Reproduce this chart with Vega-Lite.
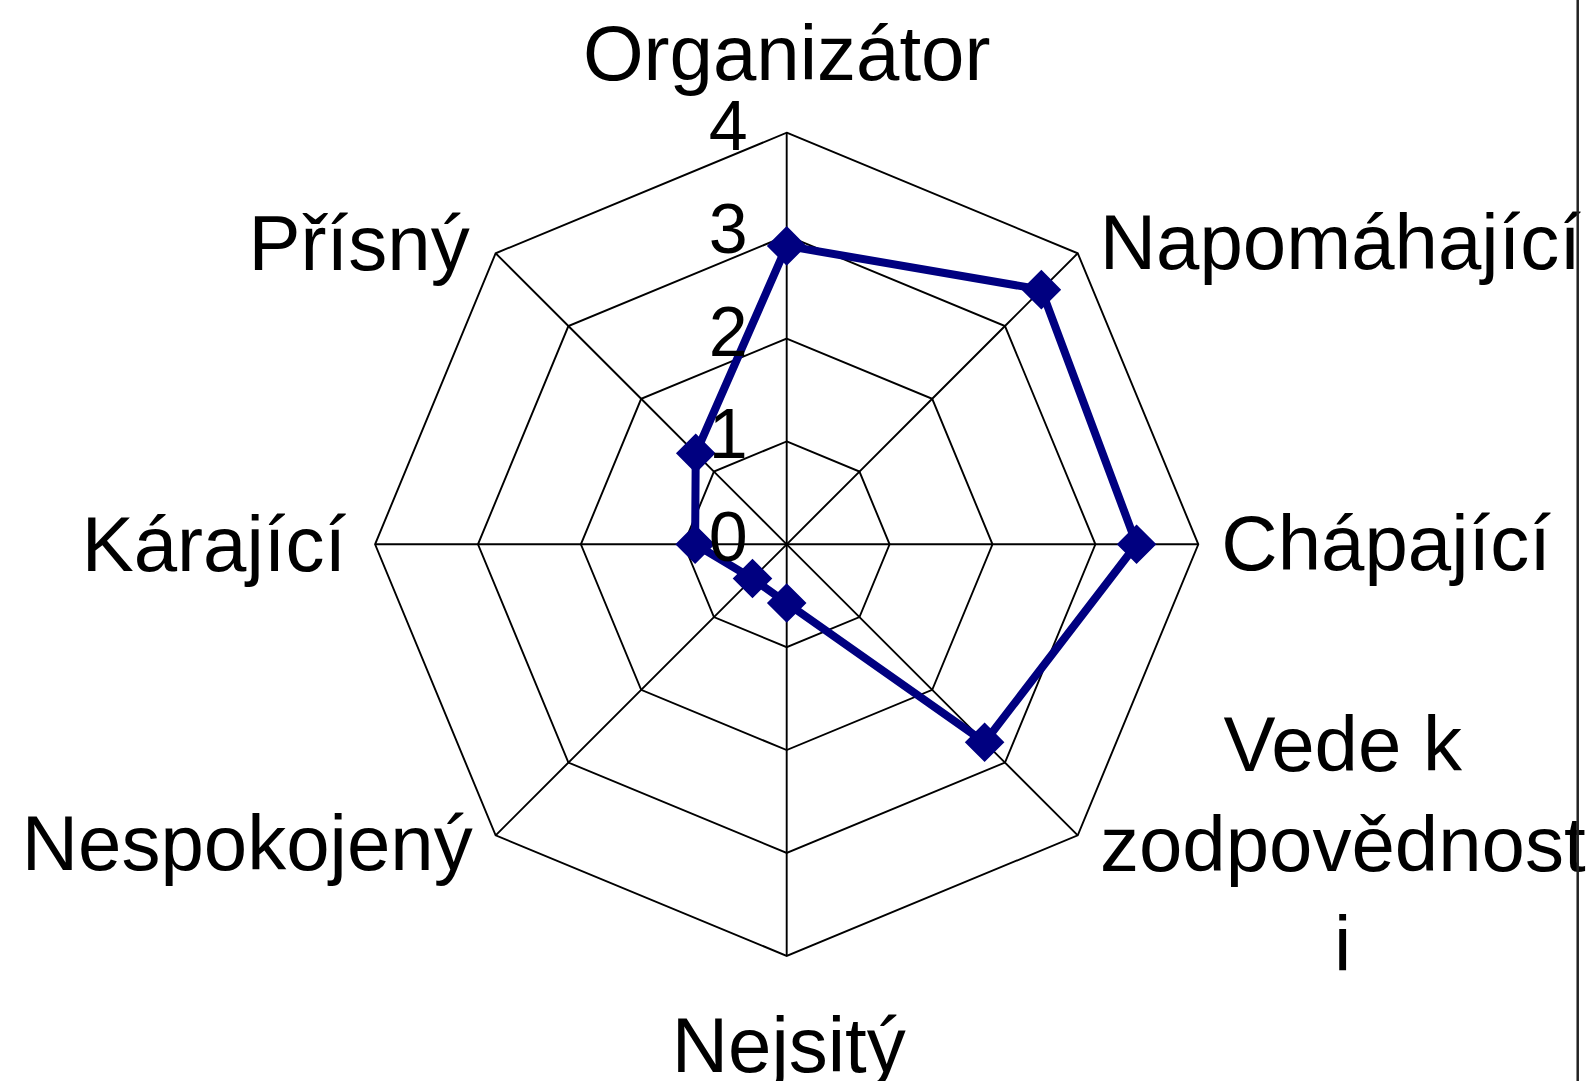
{
  "$schema": "https://vega.github.io/schema/vega-lite/v6.json",
  "width": 1595,
  "height": 1081,
  "padding": 0,
  "autosize": {"type": "none"},
  "background": "white",
  "config": {"view": {"stroke": null}, "font": "Liberation Sans"},
  "datasets": {
    "hodnoty": [
      {"kategorie": "Organizátor", "hodnota": 2.9},
      {"kategorie": "Napomáhající", "hodnota": 3.5},
      {"kategorie": "Chápající", "hodnota": 3.4},
      {"kategorie": "Vede k zodpovědnosti", "hodnota": 2.72},
      {"kategorie": "Nejsitý", "hodnota": 0.57},
      {"kategorie": "Nespokojený", "hodnota": 0.47},
      {"kategorie": "Kárající", "hodnota": 0.89},
      {"kategorie": "Přísný", "hodnota": 1.25}
    ],
    "mrizka": [
      {"kruh": 0, "osa": 0}, {"kruh": 0, "osa": 1}, {"kruh": 0, "osa": 2}, {"kruh": 0, "osa": 3},
      {"kruh": 0, "osa": 4}, {"kruh": 0, "osa": 5}, {"kruh": 0, "osa": 6}, {"kruh": 0, "osa": 7},
      {"kruh": 1, "osa": 0}, {"kruh": 1, "osa": 1}, {"kruh": 1, "osa": 2}, {"kruh": 1, "osa": 3},
      {"kruh": 1, "osa": 4}, {"kruh": 1, "osa": 5}, {"kruh": 1, "osa": 6}, {"kruh": 1, "osa": 7},
      {"kruh": 2, "osa": 0}, {"kruh": 2, "osa": 1}, {"kruh": 2, "osa": 2}, {"kruh": 2, "osa": 3},
      {"kruh": 2, "osa": 4}, {"kruh": 2, "osa": 5}, {"kruh": 2, "osa": 6}, {"kruh": 2, "osa": 7},
      {"kruh": 3, "osa": 0}, {"kruh": 3, "osa": 1}, {"kruh": 3, "osa": 2}, {"kruh": 3, "osa": 3},
      {"kruh": 3, "osa": 4}, {"kruh": 3, "osa": 5}, {"kruh": 3, "osa": 6}, {"kruh": 3, "osa": 7},
      {"kruh": 4, "osa": 0}, {"kruh": 4, "osa": 1}, {"kruh": 4, "osa": 2}, {"kruh": 4, "osa": 3},
      {"kruh": 4, "osa": 4}, {"kruh": 4, "osa": 5}, {"kruh": 4, "osa": 6}, {"kruh": 4, "osa": 7}
    ]
  },
  "layer": [
    {
      "data": {"name": "mrizka"},
      "transform": [
        {"calculate": "datum.kruh * sin(datum.osa * PI / 4)", "as": "gx"},
        {"calculate": "datum.kruh * cos(datum.osa * PI / 4)", "as": "gy"}
      ],
      "layer": [
        {
          "transform": [{"filter": "datum.kruh > 0"}],
          "mark": {"type": "line", "interpolate": "linear-closed", "stroke": "black", "strokeWidth": 1.9},
          "encoding": {
            "x": {"field": "gx", "type": "quantitative", "scale": {"domain": [-7.645, 7.855], "nice": false, "zero": false}, "axis": null},
            "y": {"field": "gy", "type": "quantitative", "scale": {"domain": [-5.216, 5.29], "nice": false, "zero": false}, "axis": null},
            "detail": {"field": "kruh", "type": "nominal"},
            "order": {"field": "osa", "type": "quantitative"}
          }
        },
        {
          "mark": {"type": "line", "stroke": "black", "strokeWidth": 1.9},
          "encoding": {
            "x": {"field": "gx", "type": "quantitative", "scale": {"domain": [-7.645, 7.855], "nice": false, "zero": false}, "axis": null},
            "y": {"field": "gy", "type": "quantitative", "scale": {"domain": [-5.216, 5.29], "nice": false, "zero": false}, "axis": null},
            "detail": {"field": "osa", "type": "nominal"},
            "order": {"field": "kruh", "type": "quantitative"}
          }
        }
      ]
    },
    {
      "data": {"name": "hodnoty"},
      "transform": [
        {"calculate": "indexof(['Organizátor','Napomáhající','Chápající','Vede k zodpovědnosti','Nejsitý','Nespokojený','Kárající','Přísný'], datum.kategorie)", "as": "osa"},
        {"calculate": "4 * sin(datum.osa * PI / 4)", "as": "vx"},
        {"calculate": "4 * cos(datum.osa * PI / 4)", "as": "vy"},
        {"calculate": "datum.hodnota * sin(datum.osa * PI / 4)", "as": "px"},
        {"calculate": "datum.hodnota * cos(datum.osa * PI / 4)", "as": "py"}
      ],
      "layer": [
        {
          "mark": {"type": "line", "interpolate": "linear-closed", "stroke": "#000080", "strokeWidth": 8},
          "encoding": {
            "x": {"field": "px", "type": "quantitative", "scale": {"domain": [-7.645, 7.855], "nice": false, "zero": false}, "axis": null},
            "y": {"field": "py", "type": "quantitative", "scale": {"domain": [-5.216, 5.29], "nice": false, "zero": false}, "axis": null},
            "order": {"field": "osa", "type": "quantitative"}
          }
        },
        {
          "mark": {"type": "point", "shape": "diamond", "filled": true, "size": 1250, "color": "#000080", "stroke": "#000080", "strokeWidth": 3, "opacity": 1},
          "encoding": {
            "x": {"field": "px", "type": "quantitative", "scale": {"domain": [-7.645, 7.855], "nice": false, "zero": false}, "axis": null},
            "y": {"field": "py", "type": "quantitative", "scale": {"domain": [-5.216, 5.29], "nice": false, "zero": false}, "axis": null}
          }
        },
        {
          "transform": [{"filter": "datum.kategorie === 'Organizátor'"}],
          "mark": {"type": "text", "align": "center", "baseline": "alphabetic", "dx": 0, "dy": -53, "fontSize": 78, "font": "Liberation Sans", "color": "black"},
          "encoding": {"x": {"field": "vx", "type": "quantitative", "scale": {"domain": [-7.645, 7.855], "nice": false, "zero": false}, "axis": null}, "y": {"field": "vy", "type": "quantitative", "scale": {"domain": [-5.216, 5.29], "nice": false, "zero": false}, "axis": null}, "text": {"field": "kategorie", "type": "nominal"}}
        },
        {
          "transform": [{"filter": "datum.kategorie === 'Napomáhající'"}],
          "mark": {"type": "text", "align": "left", "baseline": "alphabetic", "dx": 22, "dy": 16, "fontSize": 78, "font": "Liberation Sans", "color": "black"},
          "encoding": {"x": {"field": "vx", "type": "quantitative", "scale": {"domain": [-7.645, 7.855], "nice": false, "zero": false}, "axis": null}, "y": {"field": "vy", "type": "quantitative", "scale": {"domain": [-5.216, 5.29], "nice": false, "zero": false}, "axis": null}, "text": {"field": "kategorie", "type": "nominal"}}
        },
        {
          "transform": [{"filter": "datum.kategorie === 'Chápající'"}],
          "mark": {"type": "text", "align": "left", "baseline": "alphabetic", "dx": 23, "dy": 26, "fontSize": 78, "font": "Liberation Sans", "color": "black"},
          "encoding": {"x": {"field": "vx", "type": "quantitative", "scale": {"domain": [-7.645, 7.855], "nice": false, "zero": false}, "axis": null}, "y": {"field": "vy", "type": "quantitative", "scale": {"domain": [-5.216, 5.29], "nice": false, "zero": false}, "axis": null}, "text": {"field": "kategorie", "type": "nominal"}}
        },
        {
          "transform": [{"filter": "datum.kategorie === 'Vede k zodpovědnosti'"}],
          "mark": {"type": "text", "align": "center", "baseline": "alphabetic", "dx": 265, "dy": -64, "lineHeight": 100, "fontSize": 78, "font": "Liberation Sans", "color": "black"},
          "encoding": {"x": {"field": "vx", "type": "quantitative", "scale": {"domain": [-7.645, 7.855], "nice": false, "zero": false}, "axis": null}, "y": {"field": "vy", "type": "quantitative", "scale": {"domain": [-5.216, 5.29], "nice": false, "zero": false}, "axis": null}, "text": {"value": ["Vede k", "zodpovědnost", "i"]}}
        },
        {
          "transform": [{"filter": "datum.kategorie === 'Nejsitý'"}],
          "mark": {"type": "text", "align": "center", "baseline": "alphabetic", "dx": 2, "dy": 116, "fontSize": 78, "font": "Liberation Sans", "color": "black"},
          "encoding": {"x": {"field": "vx", "type": "quantitative", "scale": {"domain": [-7.645, 7.855], "nice": false, "zero": false}, "axis": null}, "y": {"field": "vy", "type": "quantitative", "scale": {"domain": [-5.216, 5.29], "nice": false, "zero": false}, "axis": null}, "text": {"field": "kategorie", "type": "nominal"}}
        },
        {
          "transform": [{"filter": "datum.kategorie === 'Nespokojený'"}],
          "mark": {"type": "text", "align": "right", "baseline": "alphabetic", "dx": -23, "dy": 35, "fontSize": 78, "font": "Liberation Sans", "color": "black"},
          "encoding": {"x": {"field": "vx", "type": "quantitative", "scale": {"domain": [-7.645, 7.855], "nice": false, "zero": false}, "axis": null}, "y": {"field": "vy", "type": "quantitative", "scale": {"domain": [-5.216, 5.29], "nice": false, "zero": false}, "axis": null}, "text": {"field": "kategorie", "type": "nominal"}}
        },
        {
          "transform": [{"filter": "datum.kategorie === 'Kárající'"}],
          "mark": {"type": "text", "align": "right", "baseline": "alphabetic", "dx": -29, "dy": 27, "fontSize": 78, "font": "Liberation Sans", "color": "black"},
          "encoding": {"x": {"field": "vx", "type": "quantitative", "scale": {"domain": [-7.645, 7.855], "nice": false, "zero": false}, "axis": null}, "y": {"field": "vy", "type": "quantitative", "scale": {"domain": [-5.216, 5.29], "nice": false, "zero": false}, "axis": null}, "text": {"field": "kategorie", "type": "nominal"}}
        },
        {
          "transform": [{"filter": "datum.kategorie === 'Přísný'"}],
          "mark": {"type": "text", "align": "right", "baseline": "alphabetic", "dx": -26, "dy": 17, "fontSize": 78, "font": "Liberation Sans", "color": "black"},
          "encoding": {"x": {"field": "vx", "type": "quantitative", "scale": {"domain": [-7.645, 7.855], "nice": false, "zero": false}, "axis": null}, "y": {"field": "vy", "type": "quantitative", "scale": {"domain": [-5.216, 5.29], "nice": false, "zero": false}, "axis": null}, "text": {"field": "kategorie", "type": "nominal"}}
        }
      ]
    },
    {
      "data": {"name": "mrizka"},
      "transform": [
        {"filter": "datum.osa === 0"},
        {"calculate": "datum.kruh * sin(datum.osa * PI / 4)", "as": "gx"},
        {"calculate": "datum.kruh * cos(datum.osa * PI / 4)", "as": "gy"}
      ],
      "mark": {"type": "text", "align": "right", "baseline": "alphabetic", "dx": -39, "dy": 17, "fontSize": 70, "font": "Liberation Sans", "color": "black"},
      "encoding": {
        "x": {"field": "gx", "type": "quantitative", "scale": {"domain": [-7.645, 7.855], "nice": false, "zero": false}, "axis": null},
        "y": {"field": "gy", "type": "quantitative", "scale": {"domain": [-5.216, 5.29], "nice": false, "zero": false}, "axis": null},
        "text": {"field": "kruh", "type": "quantitative"}
      }
    },
    {
      "data": {"values": [{"okraj": 1}]},
      "mark": {"type": "rule", "stroke": "#222222", "strokeWidth": 2.5},
      "encoding": {
        "x": {"datum": 7.687, "type": "quantitative", "scale": {"domain": [-7.645, 7.855], "nice": false, "zero": false}, "axis": null}
      }
    }
  ]
}
